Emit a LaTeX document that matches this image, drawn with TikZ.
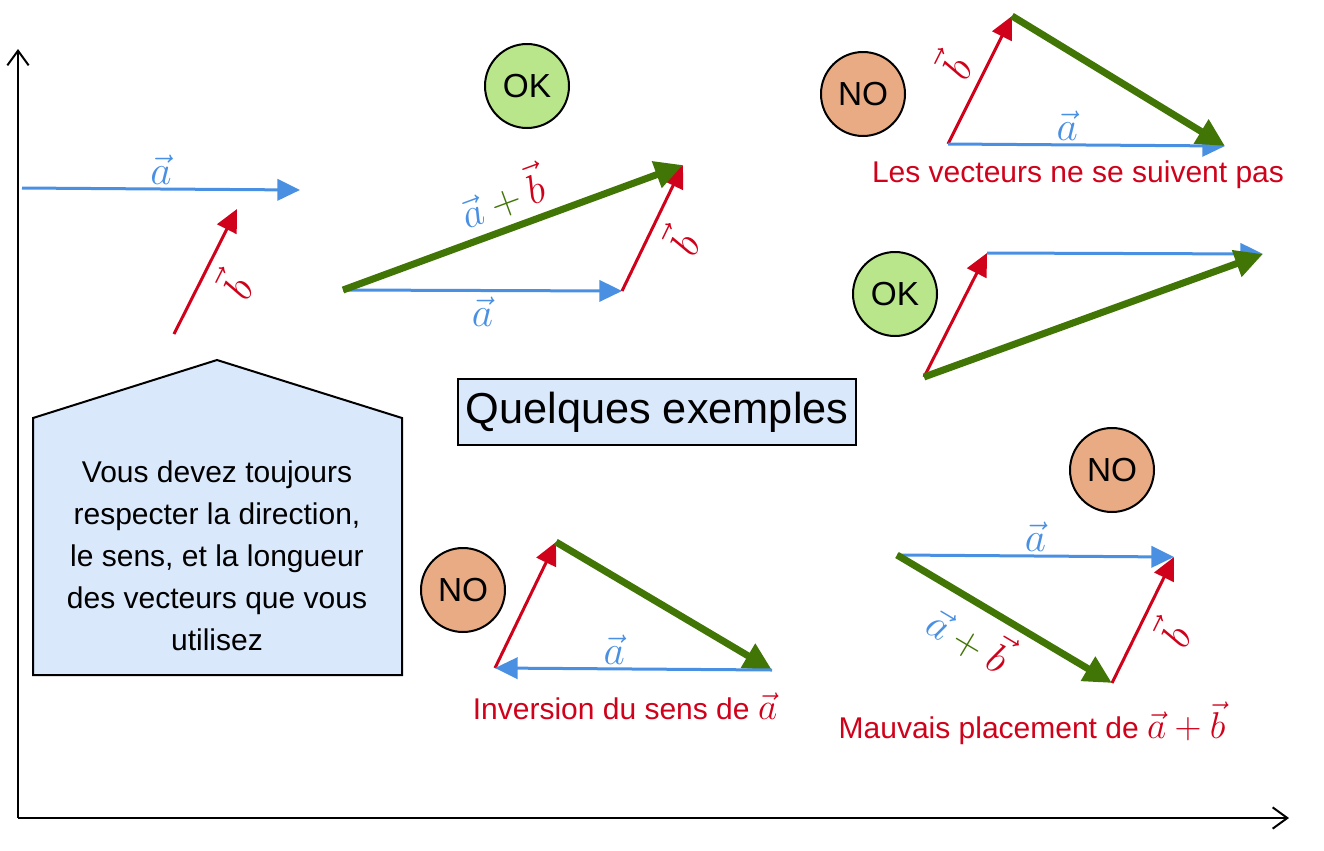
\documentclass[tikz,border=0pt]{standalone}
\usepackage{fix-cm}
\usepackage{fontspec}
\setmainfont{Liberation Sans}
\usetikzlibrary{arrows.meta}

\definecolor{vblue}{HTML}{4A90E2}
\definecolor{vred}{HTML}{D0021B}
\definecolor{vgreen}{HTML}{417505}
\definecolor{okfill}{HTML}{B9E68A}
\definecolor{nofill}{HTML}{E9AB84}
\definecolor{boxfill}{HTML}{DAE8FC}

\begin{document}
\begin{tikzpicture}[x=0.75pt,y=-0.75pt,
  veca/.style={color=vblue,line width=2.25pt,-{Triangle[length=17pt,width=16pt]}},
  vecb/.style={color=vred,line width=2.25pt,-{Triangle[length=17pt,width=16pt]}},
  vecs/.style={color=vgreen,line width=5.25pt,-{Triangle[length=21pt,width=20pt]}},
  lbl/.style={font=\fontsize{31}{32}\selectfont,inner sep=4pt},
  blbl/.style={lbl,sloped,inner sep=7pt},
  txt/.style={font=\fontsize{22.5}{31.5}\selectfont,color=vred},
  okbub/.style={circle,draw,line width=1.5pt,fill=okfill,minimum size=63pt,inner sep=0pt,font=\fontsize{25}{30}\selectfont},
  nobub/.style={okbub,fill=nofill},
  axis/.style={line width=1.5pt,-{Straight Barb[length=11pt,width=16pt]}}]

%definitions

\def\ab{$\vec a\mathbin{\textcolor{vgreen}{+}}\textcolor{vred}{\vec b}$} % a+b label
\def\big{\fontsize{28}{30}\selectfont} % maths in red texts

\useasboundingbox (0,0) rectangle (1324,850);

%axes
\coordinate (O) at (18,818);
\coordinate (ytop) at (18,49);
\coordinate (xend) at (1289,818);
\draw[axis] (O) -- (ytop);
\draw[axis] (O) -- (xend);

%
%the two vectors
%
\coordinate (la0) at (22,188); \coordinate (la1) at (300,190);
\coordinate (lb0) at (174,334); \coordinate (lb1) at (237,209);
\draw[veca] (la0) -- node[lbl,above,inner sep=2pt] {$\vec a$} (la1);
\draw[vecb] (lb0) -- node[blbl,below] {$\vec b$} (lb1);

%rule box
\draw[fill=boxfill,line width=1.5pt] (33,675) -- (33,418) -- (217,360) -- (402,418) -- (402,675) -- cycle;
\node[txt,color=black,align=center] (rule) at (217,556) {Vous devez toujours\\respecter la direction,\\le sens, et la longueur\\des vecteurs que vous\\utilisez};

%title
\node[draw,line width=1.5pt,fill=boxfill,minimum width=298.5pt,minimum height=50pt,font=\fontsize{32.5}{36}\selectfont] (title) at (657,412) {Quelques exemples};

%
%OK 1
%
\node[okbub] (ok1) at (527,86) {OK};
\coordinate (A0) at (343,290); \coordinate (A1) at (622,291); \coordinate (A2) at (683,165);
\draw[veca] (A0) -- node[lbl,below] {$\vec a$} (A1);
\draw[vecb] (A1) -- node[blbl,below] {$\vec b$} (A2);
\draw[vecs] (A0) -- node[lbl,sloped,above,inner sep=6pt,color=vblue] {\ab} (A2);

%
%NO 1 : vectors not following
%
\node[nobub] (no1) at (863,94) {NO};
\coordinate (B0) at (948,144); \coordinate (B1) at (1012,16); \coordinate (B2) at (1225,146);
\draw[vecb] (B0) -- node[blbl,above] {$\vec b$} (B1);
\draw[veca] (B0) -- node[lbl,above,inner sep=2pt,pos=0.43] {$\vec a$} (B2);
\draw[vecs] (B1) -- (B2);
\node[txt] (txt1) at (1078,175) {Les vecteurs ne se suivent pas};

%
%OK 2
%
\node[okbub] (ok2) at (895,294) {OK};
\coordinate (C0) at (924,377); \coordinate (C1) at (987,253); \coordinate (C2) at (1263,254);
\draw[vecb] (C0) -- (C1);
\draw[veca] (C1) -- (C2);
\draw[vecs] (C0) -- (C2);

%
%NO 2 : a reversed
%
\node[nobub] (no2) at (463,590) {NO};
\coordinate (D0) at (495,668); \coordinate (D1) at (556,542); \coordinate (D2) at (772,670);
\draw[vecb] (D0) -- (D1);
\draw[vecs] (D1) -- (D2);
\draw[veca] (D2) -- node[lbl,above,inner sep=2pt,pos=0.57] {$\vec a$} (D0);
\node[txt] (txt2) at (625,706) {Inversion du sens de {\big$\vec a$}};

%
%NO 3 : a+b misplaced
%
\node[nobub] (no3) at (1112,470) {NO};
\coordinate (E0) at (897,555); \coordinate (E1) at (1174,557); \coordinate (E2) at (1112,683);
\draw[veca] (E0) -- node[lbl,above,inner sep=2pt] {$\vec a$} (E1);
\draw[vecb] (E2) -- node[blbl,below] {$\vec b$} (E1);
\draw[vecs] (E0) -- node[lbl,sloped,below,pos=0.42,inner sep=6pt,color=vblue] {\ab} (E2);
\node[txt] (txt3) at (1032,723) {Mauvais placement de {\big$\vec a+\vec b$}};

\end{tikzpicture}
\end{document}
